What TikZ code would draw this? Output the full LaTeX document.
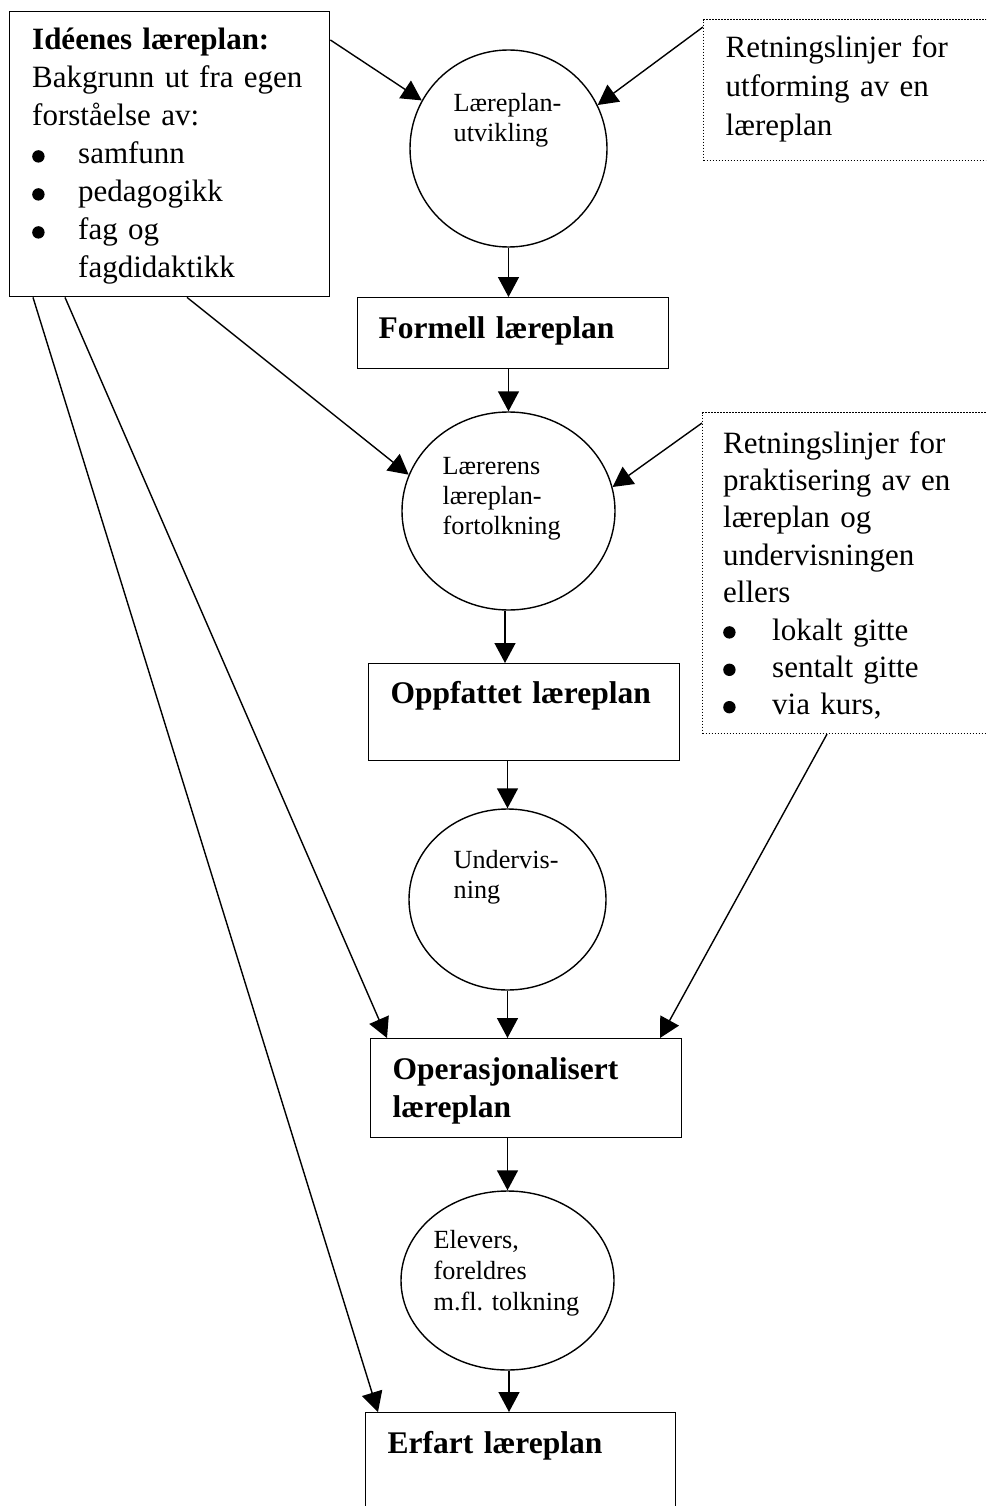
\documentclass[tikz,border=0pt]{standalone}
\usepackage{fontspec}
\setmainfont{Liberation Serif}
\usetikzlibrary{arrows.meta,shapes.geometric,calc}
\newcommand\blt{\tikz[baseline=0pt]\fill (6.2pt,7.6pt) circle[radius=6.2pt];}
\frenchspacing
\begin{document}
\begin{tikzpicture}[x=1pt,y=-1pt, line width=1.4pt,
  box/.style={draw, rectangle, inner sep=0pt, anchor=north west},
  dotbox/.style={draw, rectangle, inner sep=0pt, anchor=north west, line width=1.1pt, dash pattern=on 1.1pt off 1.9pt},
  circ/.style={draw, ellipse, inner sep=0pt},
  arr/.style={-{Triangle[length=20pt,width=21pt]}, line width=1.4pt},
  txt/.style={anchor=base west, inner sep=0pt, align=left, text width=300pt, font=\fontsize{31}{38}\selectfont\frenchspacing},
  btxt/.style={txt, font=\fontsize{31.5}{38}\selectfont\bfseries},
  ctxt/.style={anchor=base west, inner sep=0pt, align=left, text width=170pt, font=\fontsize{26.2}{30}\selectfont\frenchspacing},
]
\useasboundingbox (0,0) rectangle (986,1506);
\clip (0,0) rectangle (986,1506);

% boxes
\node[box, minimum width=320pt, minimum height=285pt] (ide) at (9,11) {};
\node[dotbox, minimum width=320pt, minimum height=141pt] (r1) at (703,19) {};
\node[dotbox, minimum width=320pt, minimum height=321pt] (r2) at (702,412) {};
\node[box, minimum width=311pt, minimum height=71pt] (formell) at (357,297) {};
\node[box, minimum width=311pt, minimum height=97pt] (oppf) at (368,663) {};
\node[box, minimum width=311pt, minimum height=99pt] (oper) at (370,1038) {};
\node[box, minimum width=310pt, minimum height=140pt] (erfart) at (365,1412) {};

% circles
\node[circ, minimum width=197pt, minimum height=197pt] (c1) at (508.5,148.5) {};
\node[circ, minimum width=213pt, minimum height=198pt] (c2) at (508.5,511) {};
\node[circ, minimum width=197pt, minimum height=181pt] (c3) at (507.5,899.5) {};
\node[circ, minimum width=213pt, minimum height=179pt] (c4) at (507.5,1280.5) {};

% texts
\node[txt] (idetxt) at (32,50) {\textbf{Idéenes læreplan:}\\
Bakgrunn ut fra egen\\
forståelse av:\\
\makebox[46pt][l]{\blt}samfunn\\
\makebox[46pt][l]{\blt}pedagogikk\\
\makebox[46pt][l]{\blt}fag og\\
\hspace*{46pt}fagdidaktikk};
\node[txt, font=\fontsize{31}{39}\selectfont] (r1txt) at (725,58) {Retningslinjer for\\ utforming av en\\ læreplan};
\node[txt, font=\fontsize{31}{37.4}\selectfont] (r2txt) at (723,453) {Retningslinjer for\\
praktisering av en\\
læreplan og\\
undervisningen\\
ellers\\
\makebox[49pt][l]{\blt}lokalt gitte\\
\makebox[49pt][l]{\blt}sentalt gitte\\
\makebox[49pt][l]{\blt}via kurs,};
\node[btxt] (formelltxt) at (378,338) {Formell læreplan};
\node[btxt] (oppftxt) at (390,703) {Oppfattet læreplan};
\node[btxt] (opertxt) at (392,1079) {Operasjonalisert\\ læreplan};
\node[btxt] (erfarttxt) at (387,1453) {Erfart læreplan};

\node[ctxt] (c1txt) at (453,112) {Læreplan-\\ utvikling};
\node[ctxt] (c2txt) at (442,474) {Lærerens\\ læreplan-\\ fortolkning};
\node[ctxt] (c3txt) at (453,868) {Undervis-\\ ning};
\node[ctxt, font=\fontsize{26.2}{31}\selectfont\frenchspacing] (c4txt) at (433,1248) {Elevers,\\ foreldres\\ m.fl. tolkning};

% connectors
\draw[arr] ($(ide.north east)+(0,29)$) -- (c1.151.6);
\draw[arr] ($(r1.north west)+(0,8)$) -- (c1.26);
\draw[arr] (c1.south) -- (c1.south |- formell.north);
\draw[arr] (c1.south |- formell.south) -- (c2.north);
\draw[arr] ($(ide.south west)+(178,0)$) -- (c2.160.3);
\draw[arr] ($(r2.north west)+(0,11)$) -- (c2.13.5);
\draw[arr] ($(c2.south)+(-3.5,0)$) -- ($(c2.south |- oppf.north)+(-3.5,0)$);
\draw[arr] (c3.north |- oppf.south) -- (c3.north);
\draw[arr] (c3.south) -- (c3.south |- oper.north);
\draw[arr] ($(ide.south west)+(56,0)$) -- ($(oper.north west)+(17,0)$);
\draw[arr] ($(r2.south west)+(125,0)$) -- ($(oper.north west)+(290,0)$);
\draw[arr] (c4.north |- oper.south) -- (c4.north);
\draw[arr] ($(c4.south)+(1.5,0)$) -- ($(c4.south |- erfart.north)+(1.5,0)$);
\draw[arr] ($(ide.south west)+(24,0)$) -- ($(erfart.north west)+(13,0)$);
\end{tikzpicture}
\end{document}
